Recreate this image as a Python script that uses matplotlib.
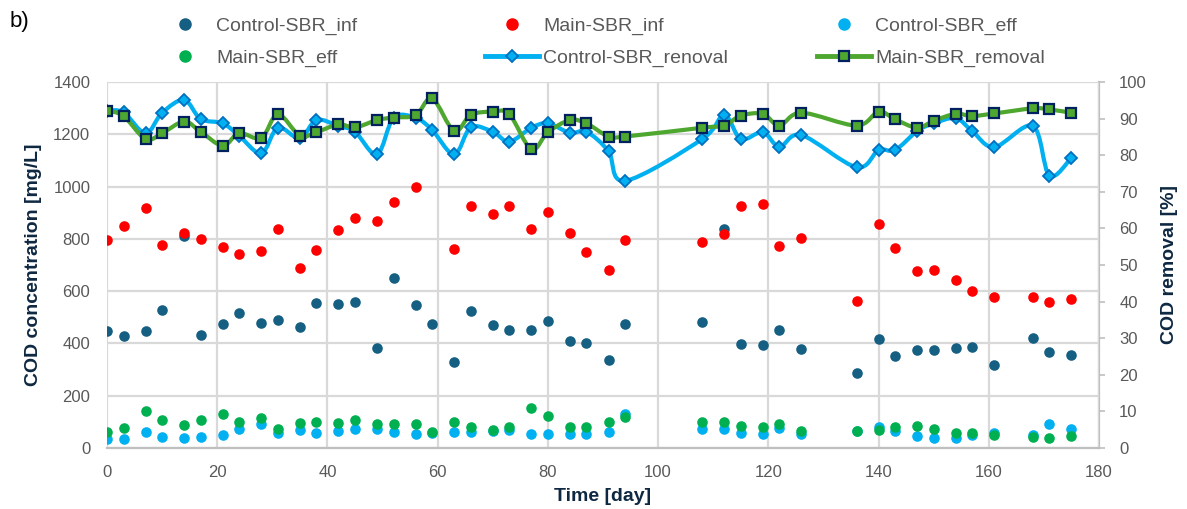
import numpy as np
import matplotlib
matplotlib.use("Agg")
import matplotlib.pyplot as plt
from matplotlib.path import Path
from matplotlib.patches import PathPatch
from matplotlib.lines import Line2D

plt.rcParams['font.family'] = ['Liberation Sans', 'DejaVu Sans']

days = [0, 3, 7, 10, 14, 17, 21, 24, 28, 31, 35, 38, 42, 45, 49, 52, 56, 59, 63, 66,
        70, 73, 77, 80, 84, 87, 91, 94, 108, 112, 115, 119, 122, 126, 136, 140, 143,
        147, 150, 154, 157, 161, 168, 171, 175]

control_inf = [449, 428, 449, 528, 812, 432, 474, 518, 477, 490, 464, 553, 551, 557, 381, 649,
               547, 473, 330, 525, 469, 451, 451, 487, 408, 403, 337, 473, 483, 837, 398,
               395, 451, 378, 287, 417, 353, 374, 375, 384, 388, 319, 422, 366, 356]

main_inf = [796, 849, 919, 777, 821, 798, 770, 741, 754, 837, 687, 757, 834, 881, 868, 942,
            997, np.nan, 760, 926, 894, 927, 837, 904, 824, 749, 681, 796, 789, 817, 927,
            932, 773, 805, 564, 856, 766, 677, 681, 643, 601, 579, 576, 560, 569]

control_eff = [34, 34, 60, 43, 37, 43, 51, 73, 91, 59, 69, 59, 65, 74, 73, 62,
               54, 57, 62, 61, 65, 69, 55, 54, 54, 52, 62, 129, 74, 74, 59,
               52, 78, 52, 65, 79, 64, 47, 39, 37, 50, 56, 50, 92, 74]

main_eff = [60, 78, 142, 107, 87, 107, 131, 101, 114, 74, 97, 101, 94, 107, 91, 91,
            91, 60, 98, 81, 69, 79, 154, 121, 81, 81, 98, 117, 98, 98, 83,
            81, 91, 66, 65, 69, 79, 84, 72, 56, 56, 49, 41, 39, 47]

control_removal = [92.2, 91.7, 86.0, 91.6, 95.1, 89.9, 88.7, 85.3, 80.5, 87.5, 84.6, 89.6,
                   88.0, 86.4, 80.2, 90.2, 90.2, 86.9, 80.2, 87.6, 86.4, 83.7, 87.5, 88.7,
                   86.1, 86.4, 81.1, 73.0, 84.4, 91.0, 84.4, 86.3, 82.3, 85.5, 76.7, 81.4,
                   81.4, 86.6, 88.7, 90.1, 86.6, 82.2, 88.0, 74.4, 79.3]

main_removal = [92.2, 90.7, 84.4, 86.0, 89.2, 86.4, 82.6, 86.0, 84.7, 91.2, 85.3, 86.3,
                88.4, 87.6, 89.6, 90.3, 90.9, 95.5, 86.6, 91.0, 91.9, 91.2, 81.6, 86.3,
                89.6, 88.7, 85.1, 85.1, 87.5, 88.1, 90.8, 91.3, 88.1, 91.6, 88.1, 91.9,
                89.8, 87.5, 89.4, 91.3, 90.7, 91.4, 92.8, 92.5, 91.6]

C_INF = '#155F82'
M_INF = '#FF0000'
C_EFF = '#00B0F0'
M_EFF = '#00B050'
C_REM = '#00B0F0'
M_REM = '#4EA72E'
NAVY = '#0E2841'
GRAY = '#595959'
GRID = '#D9D9D9'
SPINE = '#BFBFBF'


def smooth_path(x, y):
    x = np.asarray(x, float)
    y = np.asarray(y, float)
    pts = np.column_stack([x, y])
    n = len(pts)
    verts = [pts[0]]
    codes = [Path.MOVETO]
    for i in range(n - 1):
        p0 = pts[i - 1] if i > 0 else pts[i]
        p1 = pts[i]
        p2 = pts[i + 1]
        p3 = pts[i + 2] if i + 2 < n else pts[i + 1]
        c1 = p1 + (p2 - p0) / 6.0
        c2 = p2 - (p3 - p1) / 6.0
        verts += [c1, c2, p2]
        codes += [Path.CURVE4] * 3
    return Path(verts, codes)


fig = plt.figure(figsize=(11.87, 5.09), dpi=100)
rect = [107 / 1187, 1 - 448 / 509, (1099 - 107) / 1187, (448 - 82) / 509]
ax = fig.add_axes(rect)
ax2 = ax.twinx()

ax.set_zorder(ax2.get_zorder() + 1)
ax.patch.set_visible(False)

ms = 58
ax.scatter(days, control_inf, s=ms, color=C_INF, zorder=3, linewidths=0)
ax.scatter(days, main_inf, s=ms, color=M_INF, zorder=3, linewidths=0)
ax.scatter(days, control_eff, s=ms, color=C_EFF, zorder=3, linewidths=0)
ax.scatter(days, main_eff, s=ms, color=M_EFF, zorder=3, linewidths=0)

# removal lines on secondary scale (overlay axis sharing x, same 0-100 scale as ax2)
ax3 = fig.add_axes(rect, sharex=ax)
ax3.set_ylim(0, 100)
ax3.axis('off')
ax3.patch.set_visible(False)
ax3.set_zorder(ax.get_zorder() + 1)

ax3.add_patch(PathPatch(smooth_path(days, control_removal), fill=False, edgecolor=C_REM,
                        lw=3.0, capstyle='round', joinstyle='round', zorder=2))
ax3.plot(days, control_removal, ls='none', marker='D', ms=6, mfc=C_REM, mec='#0070C0',
         mew=1.3, zorder=3)
ax3.add_patch(PathPatch(smooth_path(days, main_removal), fill=False, edgecolor=M_REM,
                        lw=3.0, capstyle='round', joinstyle='round', zorder=4))
ax3.plot(days, main_removal, ls='none', marker='s', ms=7.5, mfc=M_REM, mec='#002060',
         mew=1.6, zorder=5)

ax.set_xlim(0, 180)
ax.set_ylim(0, 1400)
ax2.set_ylim(0, 100)
ax3.set_xlim(0, 180)

ax.set_xticks(np.arange(0, 181, 20))
ax.set_yticks(np.arange(0, 1401, 200))
ax2.set_yticks(np.arange(0, 101, 10))

ax.grid(True, color=GRID, lw=1.6, zorder=0)
ax.set_axisbelow(True)
for a in (ax, ax2):
    for s in a.spines.values():
        s.set_visible(False)
ax.spines['bottom'].set_visible(True)
ax.spines['bottom'].set_color(SPINE)
ax.spines['bottom'].set_linewidth(1.6)
ax2.spines['right'].set_visible(True)
ax2.spines['right'].set_color(SPINE)
ax2.spines['right'].set_linewidth(1.6)

ax.tick_params(axis='y', length=0, labelsize=12, colors=GRAY, pad=12)
ax.tick_params(axis='x', length=0, labelsize=12, colors=GRAY, pad=12)
ax2.tick_params(axis='y', direction='out', length=4.5, width=1.2, color=SPINE,
                labelsize=12, labelcolor=GRAY, pad=10)

ax.set_xlabel('Time [day]', fontsize=14, fontweight='bold', color=NAVY, labelpad=6)
ax.set_ylabel('COD concentration [mg/L]', fontsize=14, fontweight='bold', color=NAVY, labelpad=8)
ax2.set_ylabel('COD removal [%]', fontsize=14, fontweight='bold', color=NAVY, labelpad=10)

fig.text(10 / 1187, 1 - 22 / 509, 'b)', fontsize=16, va='center', ha='left', color='black')

def dot(c):
    return Line2D([], [], ls='none', marker='o', ms=8, mfc=c, mec=c)

h_cinf = dot(C_INF)
h_minf = dot(M_INF)
h_ceff = dot(C_EFF)
h_meff = dot(M_EFF)
h_crem = Line2D([], [], color=C_REM, lw=3.5, marker='D', ms=6, mfc=C_REM, mec='#0070C0', mew=1.3)
h_mrem = Line2D([], [], color=M_REM, lw=3.5, marker='s', ms=7.5, mfc=M_REM, mec='#002060', mew=1.6)

cols = [([h_cinf, h_meff], ['Control-SBR_inf', 'Main-SBR_eff'], 158),
        ([h_minf, h_crem], ['Main-SBR_inf', 'Control-SBR_renoval'], 485),
        ([h_ceff, h_mrem], ['Control-SBR_eff', 'Main-SBR_removal'], 817)]
for hs, ls, xpx in cols:
    leg = fig.legend(hs, ls, loc='upper left', bbox_to_anchor=(xpx / 1187, 1 - 17 / 509),
                     frameon=False, fontsize=14, handlelength=2.8, handletextpad=0.2,
                     labelspacing=0.72, borderaxespad=0, borderpad=0)
    for t in leg.get_texts():
        t.set_color(GRAY)

fig.savefig('out.png', dpi=100)
